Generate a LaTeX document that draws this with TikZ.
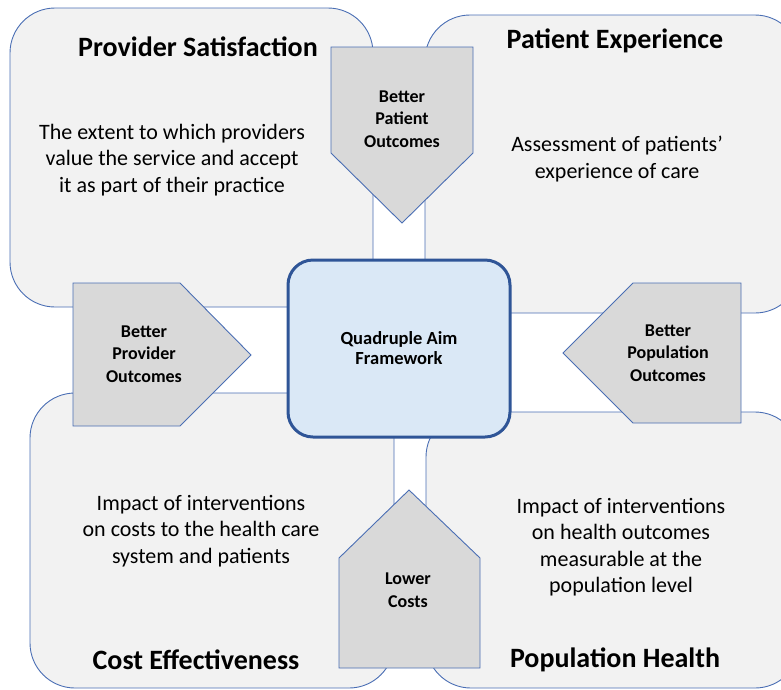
\documentclass[tikz,border=0pt]{standalone}
\usepackage{fontspec}
\setmainfont{Carlito}

\definecolor{quadfill}{HTML}{F2F2F2}
\definecolor{quadline}{HTML}{4A6EB4}
\definecolor{tagfill}{HTML}{D9D9D9}
\definecolor{hubfill}{HTML}{DAE8F6}
\definecolor{hubline}{HTML}{2F5597}

\tikzset{
  quad/.style={draw=quadline, fill=quadfill, line width=0.9pt, rounded corners=45pt},
  tagbox/.style={draw=quadline, fill=tagfill, line width=0.9pt, line join=miter},
  hub/.style={draw=hubline, fill=hubfill, line width=3pt, rounded corners=25pt},
  title/.style={font=\fontsize{28}{32}\selectfont\bfseries},
  body/.style={font=\fontsize{22}{26.5}\selectfont, align=center},
  tag/.style={font=\fontsize{18}{22.5}\selectfont\bfseries, align=center},
}

\begin{document}
\begin{tikzpicture}[x=1pt, y=-1pt]
  \useasboundingbox (0,0) rectangle (781,689);
  \clip (0,0) rectangle (781,689);

  % Quadrant boxes
  \draw[quad] (10,8) rectangle (373,307);
  \draw[quad] (425,15) rectangle (800,313);
  \draw[quad] (30,393) rectangle (394,688);
  \draw[quad] (426,412) rectangle (800,688);

  % Quadrant titles
  \node[title] (provider) at (198,47) {Provider Satisfaction};
  \node[title] (patient) at (615,41) {Patient Experience};
  \node[title] (cost) at (196,660) {Cost Effectiveness};
  \node[title] (population) at (615,660) {Population Health};

  % Quadrant descriptions
  \node[body] (providerText) at (172,160) {The extent to which providers\\value the service and accept\\it as part of their practice};
  \node[body] (patientText) at (617,159) {Assessment of patients’\\experience of care};
  \node[body] (costText) at (201,531) {Impact of interventions\\on costs to the health care\\system and patients};
  \node[body] (populationText) at (621,547) {Impact of interventions\\on health outcomes\\measurable at the\\population level};

  % Pointed tags, each aiming at the centre
  \draw[tagbox] (331,47) -- (473,47) -- (473,153) -- (402,223) -- (331,153) -- cycle;
  \draw[tagbox] (73,283) -- (180,283) -- (251,355) -- (180,426) -- (73,426) -- cycle;
  \draw[tagbox] (741,283) -- (633,283) -- (563,353) -- (633,423) -- (741,423) -- cycle;
  \draw[tagbox] (339,668) -- (480,668) -- (480,558) -- (409,490) -- (339,558) -- cycle;

  \node[tag] (patientTag) at (402,119) {Better\\Patient\\Outcomes};
  \node[tag] (providerTag) at (144,354) {Better\\Provider\\Outcomes};
  \node[tag] (populationTag) at (668,353) {Better\\Population\\Outcomes};
  \node[tag] (costTag) at (408,590) {Lower\\Costs};

  % Centre box
  \draw[hub] (288,260) rectangle (510,437);
  \node[tag, font=\fontsize{18.5}{20.5}\selectfont\bfseries] (aim) at (399,348) {Quadruple Aim\\Framework};
\end{tikzpicture}
\end{document}
